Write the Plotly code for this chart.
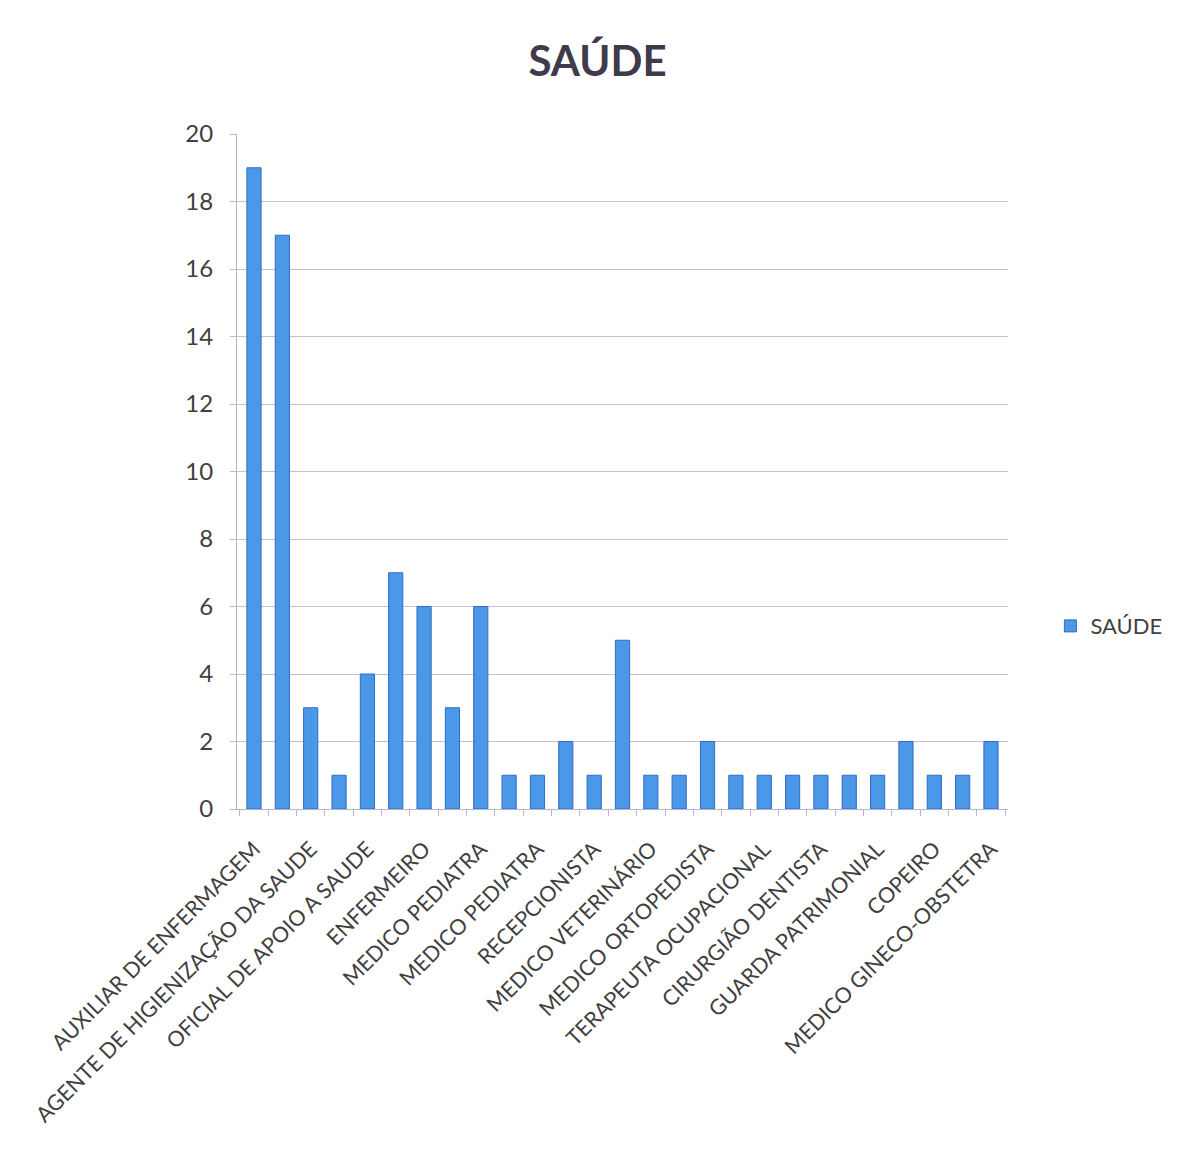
import plotly.graph_objects as go

positions = list(range(1, 28))
values = [19, 17, 3, 1, 4, 7, 6, 3, 6, 1, 1, 2, 1, 5, 1, 1, 2, 1, 1, 1, 1, 1, 1, 2, 1, 1, 2]
label_positions = [1, 3, 5, 7, 9, 11, 13, 15, 17, 19, 21, 23, 25, 27]
labels = [
    "AUXILIAR DE ENFERMAGEM",
    "AGENTE DE HIGIENIZAÇÃO DA SAUDE",
    "OFICIAL DE APOIO A SAUDE",
    "ENFERMEIRO",
    "MEDICO PEDIATRA",
    "MEDICO PEDIATRA",
    "RECEPCIONISTA",
    "MEDICO VETERINÁRIO",
    "MEDICO ORTOPEDISTA",
    "TERAPEUTA OCUPACIONAL",
    "CIRURGIÃO DENTISTA",
    "GUARDA PATRIMONIAL",
    "COPEIRO",
    "MEDICO GINECO-OBSTETRA",
]
boundaries = [p + 0.5 for p in range(0, 28)]
y_ticks = [0, 2, 4, 6, 8, 10, 12, 14, 16, 18, 20]

fig = go.Figure()
fig.add_trace(go.Bar(
    x=positions, y=values, name="SAÚDE",
    marker=dict(color="#4b97e8", line=dict(color="#2f6cc0", width=1)),
))

fig.update_layout(
    width=1179, height=1153,
    paper_bgcolor="white", plot_bgcolor="white",
    margin=dict(l=229, r=179, t=126, b=352, autoexpand=False),
    bargap=0.5,
    font=dict(family="Lato, Open Sans, sans-serif", color="#404040"),
    title=dict(text="<b>SAÚDE</b>", x=0.5, xanchor="center", y=0.954, yanchor="middle",
               font=dict(size=42, color="#3f3b4c", family="Lato, Open Sans, sans-serif")),
    showlegend=True,
    legend=dict(x=1.055, y=0.271, xanchor="left", yanchor="middle",
                font=dict(size=22, color="#404040"), bgcolor="rgba(0,0,0,0)"),
    xaxis=dict(
        range=[0.4, 27.6], tickmode="array", tickvals=label_positions, ticktext=labels,
        tickangle=-45, tickfont=dict(size=21.5, color="#404040"), ticks="", showgrid=False,
        ticklabelstandoff=18,
        showline=True, linecolor="#b8b4d4", linewidth=1, zeroline=False,
        minor=dict(tickmode="array", tickvals=boundaries, ticks="outside", ticklen=6,
                   tickcolor="#b8b4d4", showgrid=False),
    ),
    yaxis=dict(
        range=[0, 20], tickmode="array", tickvals=y_ticks,
        tickfont=dict(size=24, color="#404040"), ticks="outside", ticklen=6,
        ticklabelstandoff=12,
        tickcolor="#b8b4d4", showgrid=True, gridcolor="#c4bedf", gridwidth=1,
        showline=True, linecolor="#b8b4d4", linewidth=1, zeroline=False,
    ),
)

fig.write_html("out.html")
